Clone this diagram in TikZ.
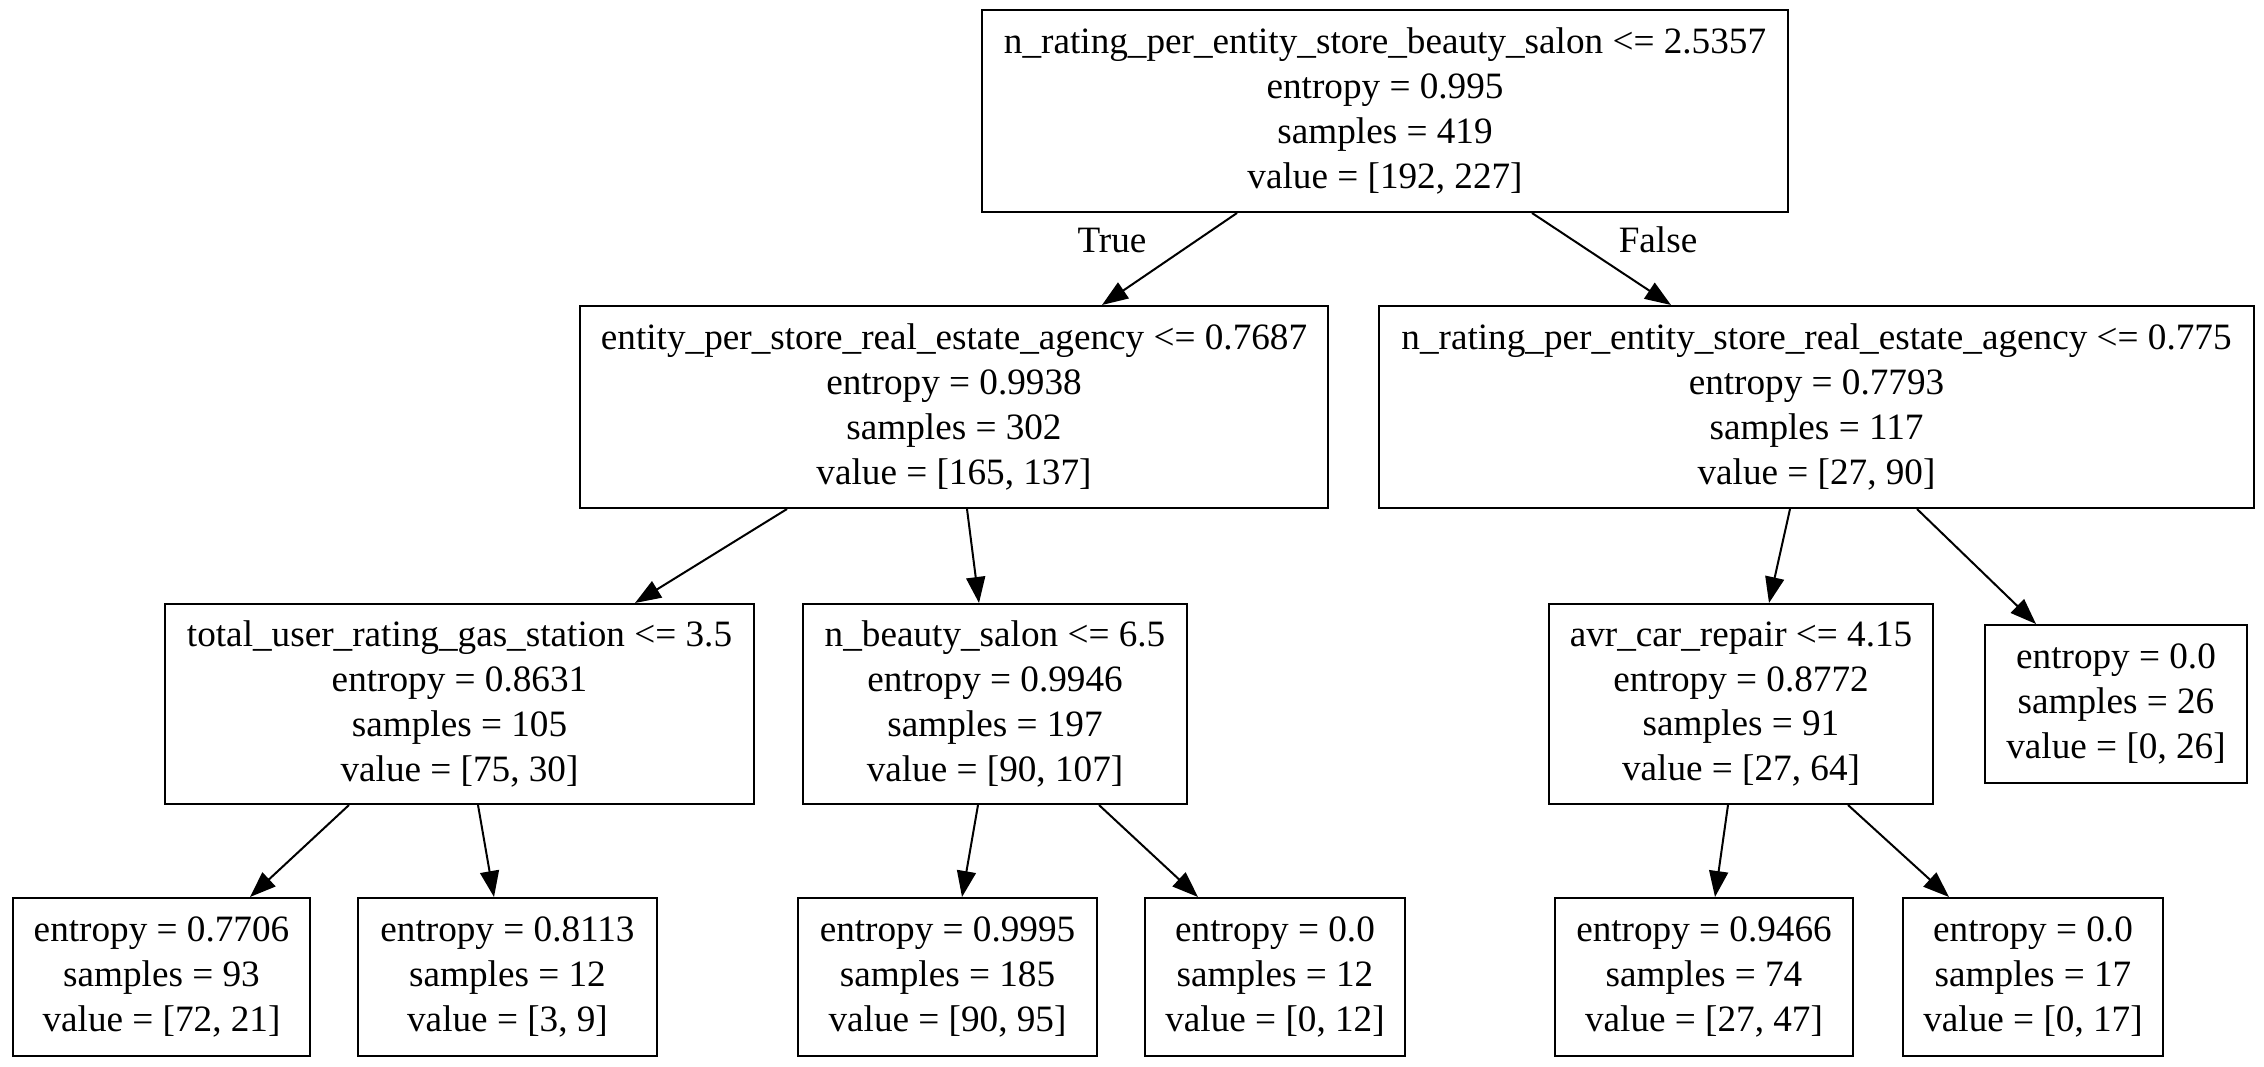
\documentclass[tikz,border=0pt]{standalone}
\usepackage{fontspec}
\setmainfont{Liberation Serif}
\usetikzlibrary{arrows.meta}
\begin{document}
\begin{tikzpicture}[x=0.5pt,y=-0.5pt,
  box/.style={draw,line width=1pt,inner sep=0pt,align=center,
    font=\fontsize{18.6}{22.4}\selectfont},
  edge/.style={line width=1pt,-{Triangle[length=13pt,width=9.5pt]}},
  elabel/.style={font=\fontsize{18.6}{22.4}\selectfont}]
\useasboundingbox (0,0) rectangle (2264,1066);
\node[box,minimum width=403pt,minimum height=101pt] (root) at (1385,111)
  {n\_rating\_per\_entity\_store\_beauty\_salon <= 2.5357\\entropy = 0.995\\samples = 419\\value = [192, 227]};
\node[box,minimum width=374pt,minimum height=101pt] (l1) at (954,407)
  {entity\_per\_store\_real\_estate\_agency <= 0.7687\\entropy = 0.9938\\samples = 302\\value = [165, 137]};
\node[box,minimum width=437.5pt,minimum height=101pt] (r1) at (1816.5,407)
  {n\_rating\_per\_entity\_store\_real\_estate\_agency <= 0.775\\entropy = 0.7793\\samples = 117\\value = [27, 90]};
\node[box,minimum width=294.5pt,minimum height=100pt] (l2a) at (459.5,704)
  {total\_user\_rating\_gas\_station <= 3.5\\entropy = 0.8631\\samples = 105\\value = [75, 30]};
\node[box,minimum width=192pt,minimum height=100pt] (l2b) at (995,704)
  {n\_beauty\_salon <= 6.5\\entropy = 0.9946\\samples = 197\\value = [90, 107]};
\node[box,minimum width=192pt,minimum height=100pt] (r2a) at (1741,704)
  {avr\_car\_repair <= 4.15\\entropy = 0.8772\\samples = 91\\value = [27, 64]};
\node[box,minimum width=131pt,minimum height=79pt] (r2b) at (2116,704)
  {entropy = 0.0\\samples = 26\\value = [0, 26]};
\node[box,minimum width=148.5pt,minimum height=79pt] (f1) at (161.5,977)
  {entropy = 0.7706\\samples = 93\\value = [72, 21]};
\node[box,minimum width=149.5pt,minimum height=79pt] (f2) at (507.5,977)
  {entropy = 0.8113\\samples = 12\\value = [3, 9]};
\node[box,minimum width=149.5pt,minimum height=79pt] (f3) at (947.5,977)
  {entropy = 0.9995\\samples = 185\\value = [90, 95]};
\node[box,minimum width=130pt,minimum height=79pt] (f4) at (1275,977)
  {entropy = 0.0\\samples = 12\\value = [0, 12]};
\node[box,minimum width=149pt,minimum height=79pt] (f5) at (1704,977)
  {entropy = 0.9466\\samples = 74\\value = [27, 47]};
\node[box,minimum width=130pt,minimum height=79pt] (f6) at (2033,977)
  {entropy = 0.0\\samples = 17\\value = [0, 17]};
\draw[edge] ([xshift=-74pt]root.south) -- ([xshift=74pt]l1.north);
\draw[edge] ([xshift=73.5pt]root.south) -- ([xshift=-72.75pt]r1.north);
\draw[edge] ([xshift=-83.5pt]l1.south) -- ([xshift=87.75pt]l2a.north);
\draw[edge] ([xshift=6.5pt]l1.south) -- ([xshift=-8pt]l2b.north);
\draw[edge] ([xshift=-13.25pt]r1.south) -- ([xshift=14pt]r2a.north);
\draw[edge] ([xshift=50.25pt]r1.south) -- ([xshift=-40pt]r2b.north);
\draw[edge] ([xshift=-55.25pt]l2a.south) -- ([xshift=44.25pt]f1.north);
\draw[edge] ([xshift=9.25pt]l2a.south) -- ([xshift=-6.75pt]f2.north);
\draw[edge] ([xshift=-8.5pt]l2b.south) -- ([xshift=7.25pt]f3.north);
\draw[edge] ([xshift=52pt]l2b.south) -- ([xshift=-38.5pt]f4.north);
\draw[edge] ([xshift=-6.5pt]r2a.south) -- ([xshift=5.5pt]f5.north);
\draw[edge] ([xshift=53.5pt]r2a.south) -- ([xshift=-42pt]f6.north);
\node[elabel] (tl) at (1112,240) {True};
\node[elabel] (fl) at (1658,240) {False};
\end{tikzpicture}
\end{document}
